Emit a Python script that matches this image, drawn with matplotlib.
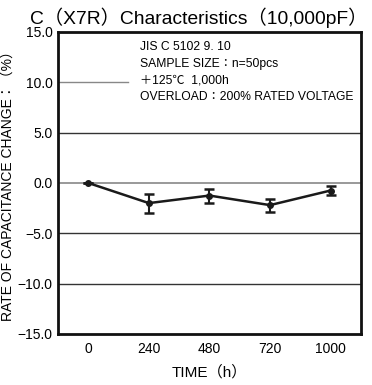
import matplotlib
matplotlib.use("Agg")
import matplotlib.pyplot as plt

plt.rcParams['font.family'] = ['Liberation Sans', 'Noto Sans CJK JP', 'DejaVu Sans']

categories = ["0", "240", "480", "720", "1000"]
values = [0.0, -2.0, -1.25, -2.2, -0.75]
err_low = [0.0, 1.0, 0.7, 0.65, 0.4]
err_high = [0.0, 0.9, 0.65, 0.6, 0.4]
yticks = [15.0, 10.0, 5.0, 0.0, -5.0, -10.0, -15.0]
ytick_labels = ["15.0", "10.0", "5.0", "0.0", "\u22125.0", "\u221210.0", "\u221215.0"]
notes = ["JIS C 5102 9. 10", "SAMPLE SIZE：n=50pcs", "＋125℃  1,000h", "OVERLOAD：200% RATED VOLTAGE"]

fig = plt.figure(figsize=(3.72, 3.85), dpi=100)
ax = fig.add_axes([0.156, 0.1325, 0.814, 0.7845])

x = list(range(len(categories)))
ax.set_xlim(-0.5, len(categories) - 0.5)
ax.set_ylim(-15, 15)

for yv in [5.0, -5.0, -10.0]:
    ax.axhline(yv, color='#333333', lw=1.0, zorder=1)
ax.axhline(0.0, color='#888888', lw=1.2, zorder=1)
ax.axhline(10.0, xmin=0, xmax=0.23, color='#888888', lw=1.0, zorder=1)

ax.errorbar(x, values, yerr=[err_low, err_high], color='#1a1a1a', lw=1.8,
            marker='o', ms=4, capsize=3.5, capthick=1.8, elinewidth=1.5, zorder=3)

ax.set_yticks(yticks)
ax.set_yticklabels(ytick_labels, fontsize=10)
ax.set_xticks(x)
ax.set_xticklabels(categories, fontsize=10)
ax.tick_params(length=0, pad=4)
ax.tick_params(axis='x', pad=6)

for s in ax.spines.values():
    s.set_linewidth(2.0)
    s.set_color('#111111')

ax.set_title("C（X7R）Characteristics（10,000pF）", fontsize=13.9, pad=6, x=0.465)
ax.set_xlabel("TIME（h）", fontsize=11, labelpad=6)
ax.set_ylabel("RATE OF CAPACITANCE CHANGE：（%）", fontsize=10, labelpad=1)

ax.text(0.27, 0.97, "\n".join(notes), transform=ax.transAxes, fontsize=8.7,
        va='top', ha='left', linespacing=1.5, zorder=4)

fig.savefig("out.png", dpi=100)
